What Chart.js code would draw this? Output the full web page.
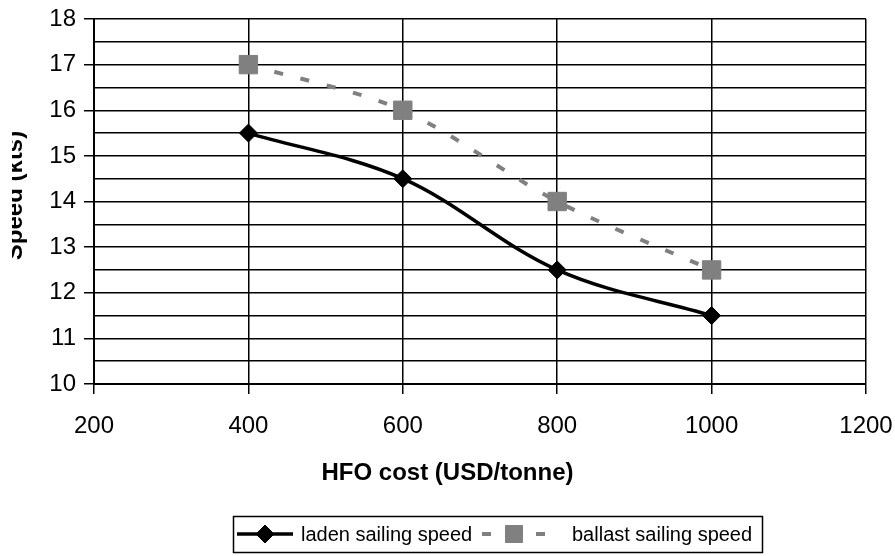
<!DOCTYPE html>
<html>
<head>
<meta charset="utf-8">
<script src="https://cdn.jsdelivr.net/npm/chart.js@4.4.1/dist/chart.umd.min.js"></script>
<style>
  html, body { margin: 0; padding: 0; background: #fff; }
  canvas { display: block; }
</style>
</head>
<body>
<canvas id="speedChart" width="895" height="556"></canvas>
<script>
// HFO price scenarios and resulting optimal speeds
const hfoCost = [400, 600, 800, 1000];
const ladenSpeed = [15.5, 14.5, 12.5, 11.5];
const ballastSpeed = [17, 16, 14, 12.5];

const xTickValues = [200, 400, 600, 800, 1000, 1200];
const yTickLabels = [10, 11, 12, 13, 14, 15, 16, 17, 18];

const FONT = "'Liberation Sans', Arial, sans-serif";

const toPoints = (xs, ys) => xs.map((x, i) => ({ x: x, y: ys[i] }));

// axis titles (the y one is clipped on its left side) and the boxed legend
const extras = {
  id: 'extras',
  afterDraw(chart) {
    const ctx = chart.ctx;
    const area = chart.chartArea;

    ctx.save();
    ctx.fillStyle = '#000';
    ctx.font = 'bold 24px ' + FONT;
    ctx.textAlign = 'center';
    ctx.textBaseline = 'middle';
    ctx.fillText('HFO cost (USD/tonne)', chart.width / 2, area.bottom + 89);
    ctx.restore();

    ctx.save();
    ctx.beginPath();
    ctx.rect(12, 0, area.left, chart.height);
    ctx.clip();
    ctx.translate(22, (area.top + area.bottom) / 2 - 6);
    ctx.rotate(-Math.PI / 2);
    ctx.font = 'bold 24px ' + FONT;
    ctx.textAlign = 'center';
    ctx.textBaseline = 'alphabetic';
    ctx.fillStyle = '#000';
    ctx.fillText('Speed (kts)', 0, 0);
    ctx.restore();

    // legend box
    const box = { left: 233, top: 516, width: 529, height: 36 };
    ctx.save();
    ctx.strokeStyle = '#000';
    ctx.lineWidth = 1.5;
    ctx.strokeRect(box.left + 0.5, box.top + 0.5, box.width, box.height);

    const cy = box.top + box.height / 2;
    const items = [
      { ds: chart.data.datasets[0], x0: box.left + 4, x1: box.left + 60, tx: box.left + 68, r: 9 },
      { ds: chart.data.datasets[1], x0: box.left + 249, x1: box.left + 313, tx: box.left + 339, r: 12 }
    ];
    items.forEach(it => {
      const ds = it.ds;
      ctx.save();
      ctx.strokeStyle = ds.borderColor;
      ctx.lineWidth = ds.borderWidth;
      ctx.setLineDash(ds.borderDash || []);
      ctx.beginPath();
      ctx.moveTo(it.x0, cy);
      ctx.lineTo(it.x1, cy);
      ctx.stroke();
      ctx.restore();
      ctx.fillStyle = ds.backgroundColor;
      ctx.strokeStyle = ds.borderColor;
      ctx.lineWidth = 1;
      Chart.helpers.drawPoint(ctx, {
        pointStyle: ds.pointStyle,
        radius: it.r,
        rotation: 0,
        borderWidth: 1
      }, (it.x0 + it.x1) / 2, cy);
      ctx.fillStyle = '#000';
      ctx.font = '20px ' + FONT;
      ctx.textAlign = 'left';
      ctx.textBaseline = 'middle';
      ctx.fillText(ds.label, it.tx, cy + 1);
    });
    ctx.restore();
  }
};

new Chart(document.getElementById('speedChart'), {
  type: 'line',
  data: {
    datasets: [
      {
        label: 'laden sailing speed',
        data: toPoints(hfoCost, ladenSpeed),
        borderColor: '#000',
        backgroundColor: '#000',
        borderWidth: 3.5,
        pointStyle: 'rectRot',
        pointRadius: 9,
        pointBorderWidth: 1,
        tension: 0.35
      },
      {
        label: 'ballast sailing speed',
        data: toPoints(hfoCost, ballastSpeed),
        borderColor: '#808080',
        backgroundColor: '#808080',
        borderWidth: 4,
        borderDash: [9, 18],
        pointStyle: 'rect',
        pointRadius: 13,
        pointBorderWidth: 1,
        tension: 0.3
      }
    ]
  },
  options: {
    responsive: false,
    animation: false,
    layout: { padding: { top: 19, right: 29, bottom: 69, left: 0 } },
    plugins: {
      legend: { display: false },
      tooltip: { enabled: false }
    },
    scales: {
      x: {
        type: 'linear',
        min: 200,
        max: 1200,
        afterBuildTicks: s => { s.ticks = xTickValues.map(v => ({ value: v })); },
        ticks: {
          color: '#000',
          font: { family: FONT, size: 24 },
          padding: 18,
          maxRotation: 0,
          autoSkip: false,
          callback: v => String(v)
        },
        grid: { color: '#000', lineWidth: 1.5, tickLength: 10, tickColor: '#000' },
        border: { color: '#000', width: 2 },
        afterFit: s => { s.height = 103; s.paddingLeft = 0; s.paddingRight = 0; }
      },
      y: {
        min: 10,
        max: 18,
        ticks: {
          stepSize: 0.5,
          maxTicksLimit: 40,
          autoSkip: false,
          color: '#000',
          font: { family: FONT, size: 24 },
          padding: 8,
          callback: v => yTickLabels.includes(v) ? String(v) : ''
        },
        grid: {
          color: '#000',
          lineWidth: 1.5,
          tickLength: 10,
          tickColor: c => (c.tick && yTickLabels.includes(c.tick.value)) ? '#000' : 'rgba(0,0,0,0)'
        },
        border: { color: '#000', width: 2 },
        afterFit: s => { s.width = 94; s.paddingTop = 0; s.paddingBottom = 0; }
      }
    }
  },
  plugins: [extras]
});
</script>
</body>
</html>
